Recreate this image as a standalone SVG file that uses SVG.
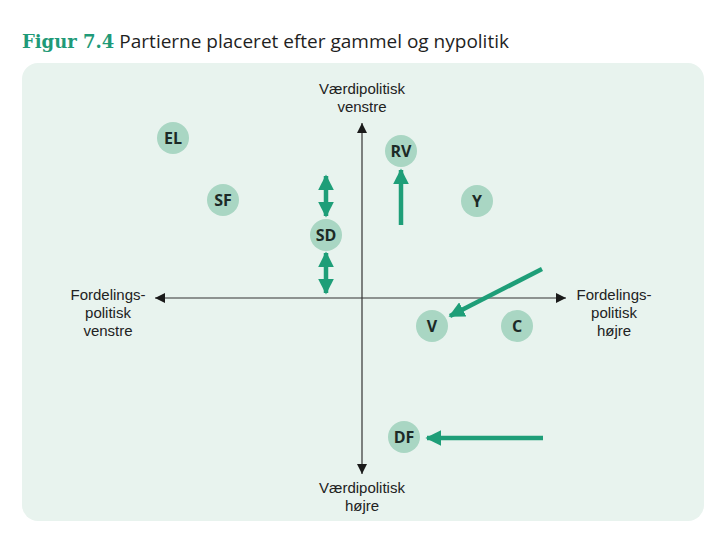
<svg xmlns="http://www.w3.org/2000/svg" width="720" height="540" viewBox="0 0 720 540">
<defs>
<style>
.title{font-family:"Open Sans","Liberation Sans",sans-serif;font-size:19px;fill:#1f1f1f}
.fig{font-family:"DejaVu Serif","Liberation Serif",serif;font-weight:bold;font-size:18px;fill:#1f9a78}
.ax{font-family:"Liberation Sans",Arial,sans-serif;font-size:15px;fill:#222;text-anchor:middle}
.node circle{fill:#a9d6c3}
.node text{font-family:"Open Sans","Liberation Sans",sans-serif;font-weight:bold;font-size:16px;fill:#1c2a26;text-anchor:middle}
.axis{stroke:#333;stroke-width:1.2;fill:none}
.garrow{stroke:#1e9e78;stroke-width:4.5;fill:none}
</style>
<marker id="ah" viewBox="0 0 10 10" refX="10" refY="5" markerWidth="10" markerHeight="10" markerUnits="userSpaceOnUse" orient="auto-start-reverse">
<path d="M0,0 L10,5 L0,10 Z" fill="#1a1a1a"/>
</marker>
<marker id="gh" viewBox="0 0 10 10" refX="9" refY="5" markerWidth="16" markerHeight="16" markerUnits="userSpaceOnUse" orient="auto-start-reverse">
<path d="M0,0 L10,5 L0,10 Z" fill="#1e9e78"/>
</marker>
</defs>
<rect x="0" y="0" width="720" height="540" fill="#ffffff"/>
<text x="22" y="48"><tspan class="fig">Figur 7.4</tspan><tspan class="title" dx="5">Partierne placeret efter gammel og nypolitik</tspan></text>
<rect x="22" y="63" width="682" height="458" rx="16" fill="#e8f3ee"/>
<g id="connectors">
<line class="axis" x1="362" y1="474" x2="362" y2="123" marker-end="url(#ah)" marker-start="url(#ah)"/>
<line class="axis" x1="155" y1="298" x2="566" y2="298" marker-end="url(#ah)" marker-start="url(#ah)"/>
<line class="garrow" x1="401" y1="225" x2="401" y2="170" marker-end="url(#gh)"/>
<line class="garrow" x1="326" y1="176" x2="326" y2="216" marker-end="url(#gh)" marker-start="url(#gh)"/>
<line class="garrow" x1="326" y1="253" x2="326" y2="293" marker-end="url(#gh)" marker-start="url(#gh)"/>
<line class="garrow" x1="542" y1="269" x2="450" y2="316" marker-end="url(#gh)"/>
<line class="garrow" x1="543" y1="438" x2="427" y2="438" marker-end="url(#gh)"/>
</g>
<g id="labels">
<text class="ax" x="362" y="94">Værdipolitisk</text>
<text class="ax" x="362" y="112">venstre</text>
<text class="ax" x="362" y="493">Værdipolitisk</text>
<text class="ax" x="362" y="511">højre</text>
<text class="ax" x="108" y="300">Fordelings-</text>
<text class="ax" x="108" y="318">politisk</text>
<text class="ax" x="108" y="336">venstre</text>
<text class="ax" x="614" y="300">Fordelings-</text>
<text class="ax" x="614" y="318">politisk</text>
<text class="ax" x="614" y="336">højre</text>
</g>
<g id="EL" class="node"><circle cx="173" cy="138" r="16"/><text x="173" y="144">EL</text></g>
<g id="RV" class="node"><circle cx="401" cy="151" r="16"/><text x="401" y="157">RV</text></g>
<g id="SF" class="node"><circle cx="223" cy="200" r="16"/><text x="223" y="206">SF</text></g>
<g id="Y" class="node"><circle cx="477" cy="201" r="16"/><text x="477" y="207">Y</text></g>
<g id="SD" class="node"><circle cx="326" cy="235" r="16"/><text x="326" y="241">SD</text></g>
<g id="V" class="node"><circle cx="432" cy="326" r="16"/><text x="432" y="332">V</text></g>
<g id="C" class="node"><circle cx="517" cy="326" r="16"/><text x="517" y="332">C</text></g>
<g id="DF" class="node"><circle cx="404" cy="437" r="16"/><text x="404" y="443">DF</text></g>
</svg>
